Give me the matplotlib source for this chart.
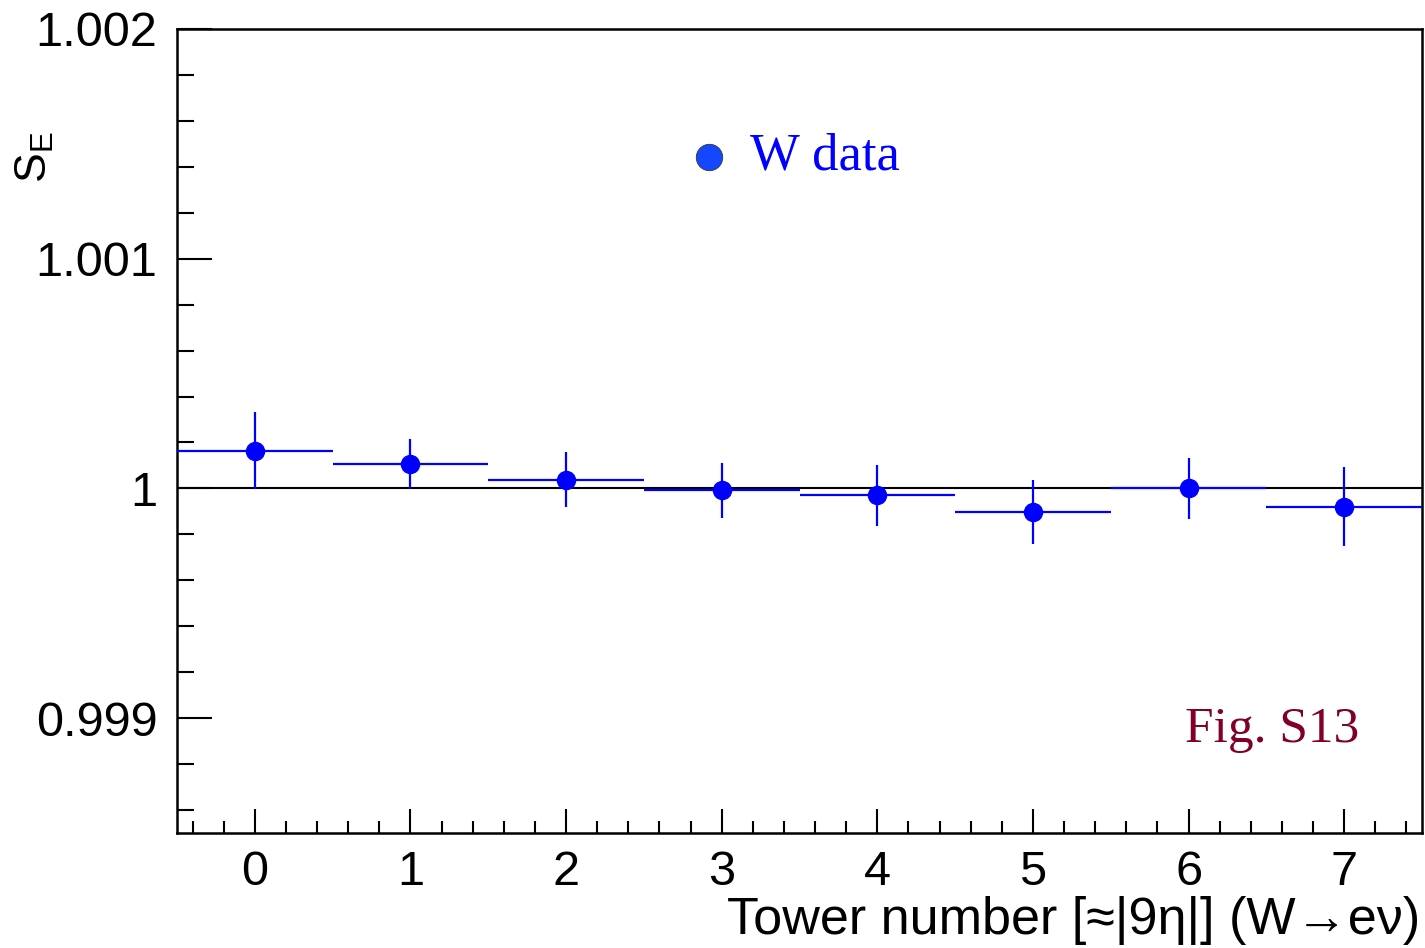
import numpy as np
import matplotlib
matplotlib.use("Agg")
import matplotlib.pyplot as plt
from matplotlib.ticker import MultipleLocator
from matplotlib.lines import Line2D

plt.rcParams['font.family'] = ['Liberation Sans', 'DejaVu Sans']
plt.rcParams['mathtext.default'] = 'regular'

# data
towers = [0, 1, 2, 3, 4, 5, 6, 7]
s_e = [1.000165, 1.000108, 1.000038, 0.999991, 0.999970, 0.999897, 1.000001, 0.999920]
s_e_err = [0.000167, 0.000109, 0.000120, 0.000121, 0.000132, 0.000138, 0.000133, 0.000172]
bin_half = [0.5] * 8

fig = plt.figure(figsize=(14.25, 9.48), dpi=100)
ax = fig.add_axes([177 / 1425, 1 - 833 / 948, 1245 / 1425, 804 / 948])

ax.axhline(1.0, color='black', lw=1.5, zorder=1)
ax.errorbar(towers, s_e, yerr=s_e_err, xerr=bin_half, fmt='o', color='#0000ff',
            ms=13, elinewidth=1.6, capsize=0, zorder=3)

ax.set_xlim(-0.5, 7.5)
ax.set_ylim(0.9985, 1.002)

ax.xaxis.set_major_locator(MultipleLocator(1))
ax.xaxis.set_minor_locator(MultipleLocator(0.2))
ax.yaxis.set_minor_locator(MultipleLocator(0.0002))
ax.set_yticks([0.999, 1.0, 1.001, 1.002])
ax.set_yticklabels(['0.999', '1', '1.001', '1.002'])

ax.tick_params(axis='both', which='both', direction='in', top=False, right=False,
               width=1.5, labelsize=35, colors='black')
ax.tick_params(axis='y', which='major', length=25, pad=14)
ax.tick_params(axis='y', which='minor', length=12)
ax.tick_params(axis='x', which='major', length=17, pad=12)
ax.tick_params(axis='x', which='minor', length=9)
for sp in ax.spines.values():
    sp.set_linewidth(1.8)

fig.text(1420 / 1425, 1 - 945 / 948, u'Tower number [\u2248|9\u03b7|] (W\u2192e\u03bd)',
         ha='right', va='bottom', fontsize=37.5)
fig.text(14 / 1425, 1 - 132 / 948, r'$S_E$', rotation=90, ha='left', va='top',
         fontsize=32)

# legend entry
fig.add_artist(Line2D([709 / 1425], [1 - 157 / 948], marker='o', ms=19,
                      color='#1448ff', mec='#333333', mew=0.6,
                      transform=fig.transFigure))
fig.text(750 / 1425, 1 - 157 / 948, 'W data', color='#0000ff', fontsize=38,
         family='Liberation Serif', ha='left', va='center')
fig.text(1185 / 1425, 1 - 730 / 948, 'Fig. S13', color='#800026', fontsize=37,
         family='Liberation Serif', ha='left', va='center')

fig.savefig('out.png', dpi=100)
